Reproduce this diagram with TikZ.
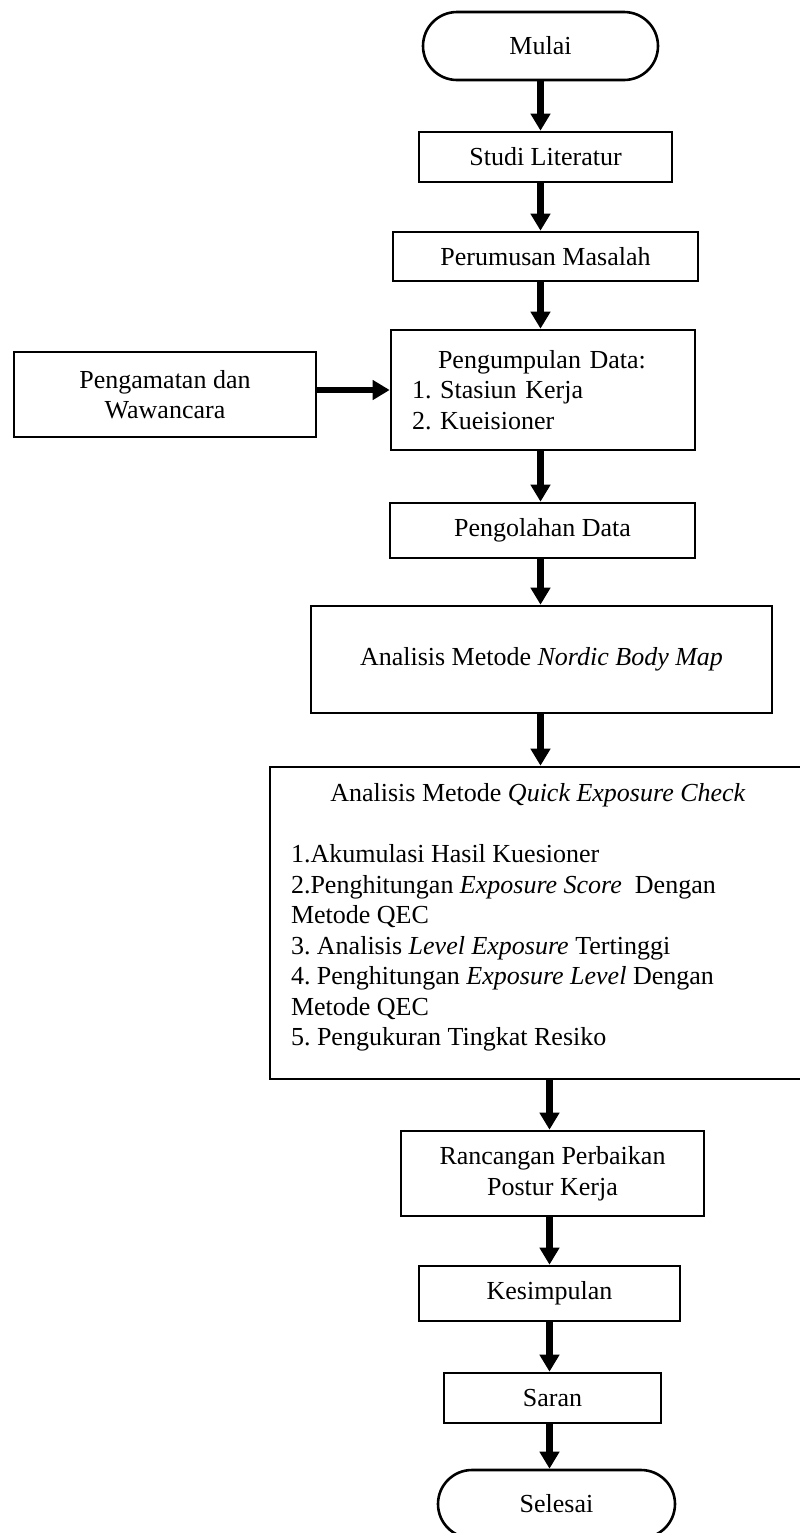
\documentclass[tikz,border=0pt]{standalone}
\usepackage{fontspec}
\setmainfont{Liberation Serif}
\frenchspacing
\usetikzlibrary{arrows.meta,positioning}

\tikzset{
  box/.style={draw, line width=1.3pt, inner sep=0pt, align=center,
    font=\fontsize{13}{15.25}\selectfont},
  terminal/.style={box, rounded corners=17pt},
  arr/.style={line width=3.2pt, -{Triangle[length=8.5pt,width=9.5pt]}},
}

\begin{document}
\begin{tikzpicture}[x=0.5pt,y=-0.5pt]
\useasboundingbox (0,0) rectangle (799,1533);

% main flow
\node[terminal, minimum width=117.5pt, minimum height=34pt] (mulai) at (540.5,46) {Mulai};
\node[box, minimum width=126.5pt, minimum height=25pt] (studi) at (545.5,157) {Studi Literatur};
\node[box, minimum width=152.5pt, minimum height=24.5pt] (rumusan) at (545.5,256.5) {Perumusan Masalah};
\node[box, minimum width=152pt, minimum height=60pt, align=left, text width=131pt] (kumpul) at (543,390)
  {\hspace*{1em}Pengumpulan Data:\\1. Stasiun Kerja\\2. Kueisioner};
\node[box, minimum width=151pt, minimum height=42.5pt] (amat) at (165,394.5) {Pengamatan dan\\Wawancara};
\node[box, minimum width=152.5pt, minimum height=27.5pt] (olah) at (542.5,530.5) {Pengolahan Data};
\node[box, minimum width=230.5pt, minimum height=53.5pt] (nbm) at (541.5,659.5)
  {Analisis Metode \textit{Nordic Body Map}};
\node[box, minimum width=268pt, minimum height=156pt] (qec) at (538,923)
  {\parbox[c][142.8pt][t]{247pt}{\raggedright
   \strut\makebox[\linewidth]{Analisis Metode \textit{Quick Exposure Check}}\\[\baselineskip]
   1.Akumulasi Hasil Kuesioner\\
   2.Penghitungan \textit{Exposure Score}\ \ Dengan\\
   Metode QEC\\
   3. Analisis \textit{Level Exposure} Tertinggi\\
   4. Penghitungan \textit{Exposure Level} Dengan\\
   Metode QEC\\
   5. Pengukuran Tingkat Resiko}};
\node[box, minimum width=151.5pt, minimum height=42.5pt] (rancang) at (552.5,1173.5) {Rancangan Perbaikan\\Postur Kerja};
\node[box, minimum width=130.5pt, minimum height=27.5pt] (simpul) at (549.5,1293.5) {Kesimpulan};
\node[box, minimum width=108.5pt, minimum height=25pt] (saran) at (552.5,1398) {Saran};
\node[terminal, minimum width=118.5pt, minimum height=34pt] (selesai) at (556.5,1504) {Selesai};

% arrows
\draw[arr] (mulai.south) -- (mulai.south |- studi.north);
\draw[arr] (studi.south -| mulai) -- (rumusan.north -| mulai);
\draw[arr] (rumusan.south -| mulai) -- (kumpul.north -| mulai);
\draw[arr] (amat.east |- kumpul) -- (kumpul.west);
\draw[arr] (kumpul.south -| mulai) -- (olah.north -| mulai);
\draw[arr] (olah.south -| mulai) -- (nbm.north -| mulai);
\draw[arr] (nbm.south -| mulai) -- (qec.north -| mulai);
\draw[arr] (qec.south -| simpul) -- (rancang.north -| simpul);
\draw[arr] (rancang.south -| simpul) -- (simpul.north);
\draw[arr] (simpul.south) -- (saran.north -| simpul);
\draw[arr] (saran.south -| simpul) -- (selesai.north -| simpul);

\end{tikzpicture}
\end{document}
